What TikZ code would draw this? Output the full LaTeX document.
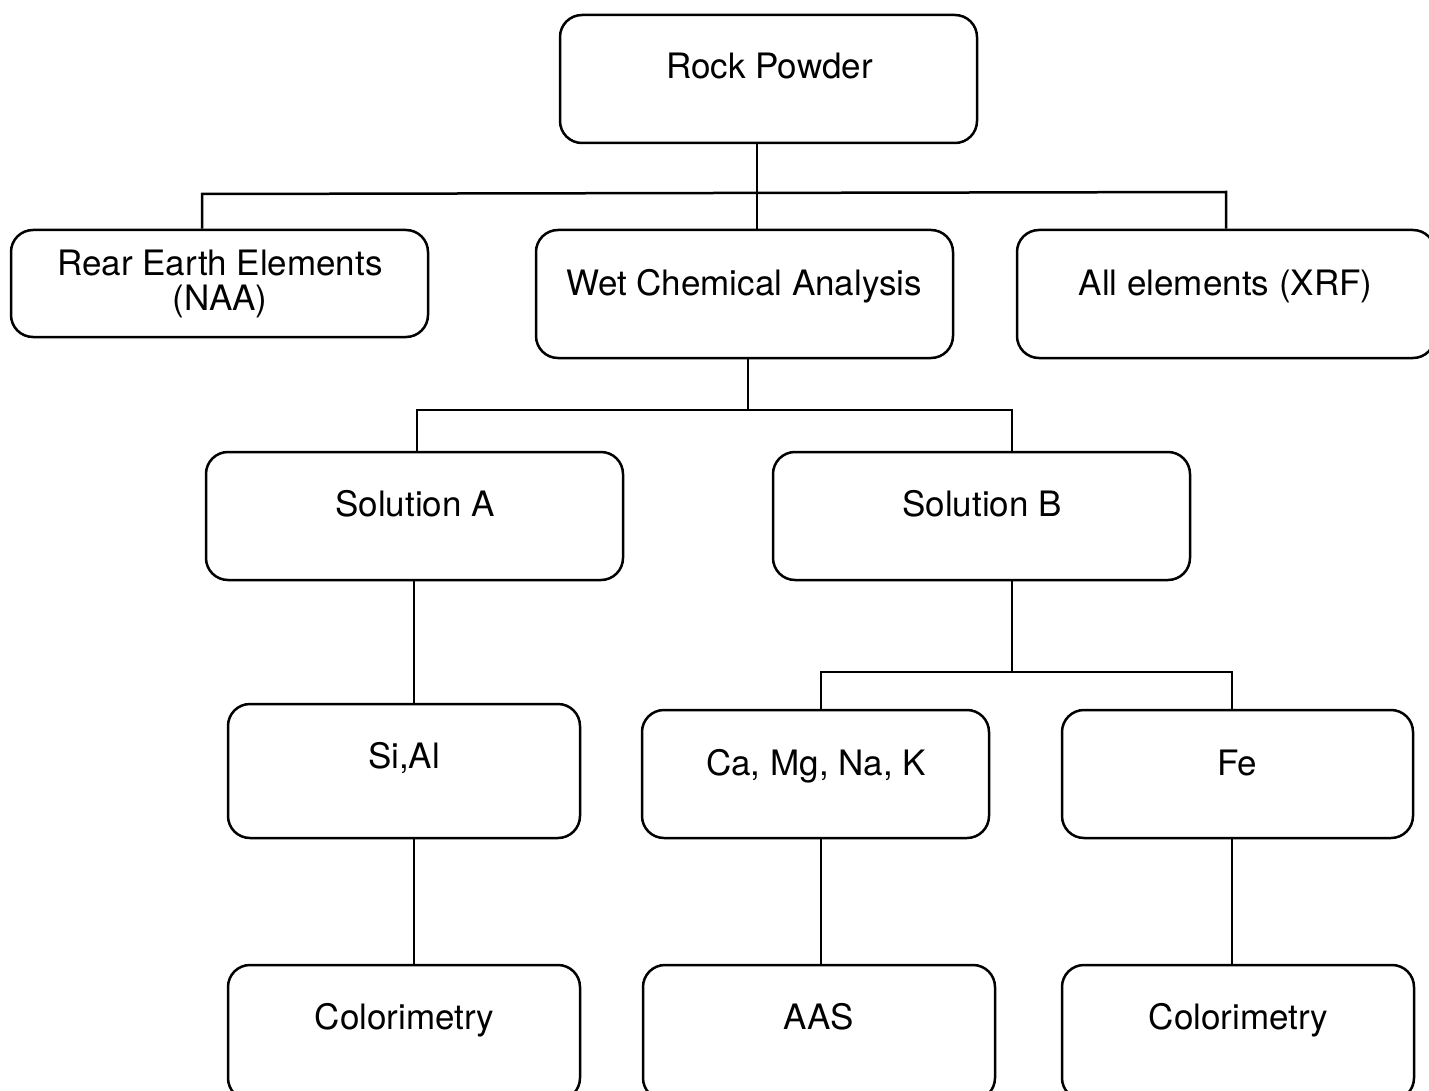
\documentclass[tikz,border=0pt]{standalone}
\usepackage{fontspec}
\setmainfont{TeX Gyre Heros}
\begin{document}
\begin{tikzpicture}[x=1pt,y=-1pt,
  box/.style={draw, line width=2.5pt, rounded corners=22pt, inner sep=0pt},
  txt/.style={anchor=base, inner sep=0pt, font=\fontsize{35}{35}\selectfont},
  conn/.style={line width=2.5pt}]
\useasboundingbox (0,0) rectangle (1429,1091);
\clip (0,0) rectangle (1429,1091);
% boxes
\node[box, minimum width=417pt, minimum height=128pt] (rp) at (768.5,79) {};
\node[box, minimum width=417pt, minimum height=107pt] (ree) at (219.5,283.5) {};
\node[box, minimum width=417pt, minimum height=128pt] (wca) at (744.5,294) {};
\node[box, minimum width=418pt, minimum height=128pt] (xrf) at (1226,294) {};
\node[box, minimum width=417pt, minimum height=128pt] (sa) at (414.5,516) {};
\node[box, minimum width=417pt, minimum height=128pt] (sb) at (981.5,516) {};
\node[box, minimum width=352pt, minimum height=134pt] (si) at (404,771) {};
\node[box, minimum width=347pt, minimum height=128pt] (ca) at (815.5,774) {};
\node[box, minimum width=351pt, minimum height=128pt] (fe) at (1237.5,774) {};
\node[box, minimum width=352pt, minimum height=135pt] (col1) at (404,1032.5) {};
\node[box, minimum width=352pt, minimum height=135pt] (aas) at (819,1032.5) {};
\node[box, minimum width=352pt, minimum height=135pt] (col2) at (1238,1032.5) {};
% texts
\node[txt] (rpt) at (769.5,79) {Rock Powder};
\node[txt] (reet1) at (220,276) {Rear Earth Elements};
\node[txt] (reet2) at (220,310) {(NAA)};
\node[txt] (wcat) at (744,295) {Wet Chemical Analysis};
\node[txt] (xrft) at (1225.5,295) {All elements (XRF)};
\node[txt] (sat) at (415,516) {Solution A};
\node[txt] (sbt) at (982,516) {Solution B};
\node[txt] (sit) at (404,768) {Si,Al};
\node[txt] (cat) at (816,775) {Ca, Mg, Na, K};
\node[txt] (fet) at (1237,775) {Fe};
\node[txt] (col1t) at (404.5,1029) {Colorimetry};
\node[txt] (aast) at (819,1029) {AAS};
\node[txt] (col2t) at (1238.5,1029) {Colorimetry};
% junction coordinates
\coordinate (t1) at (757,193);
\coordinate (b1L) at (202,194);
\coordinate (b1R) at (1226,192);
\coordinate (t2) at (748,410);
\coordinate (b2L) at (417,410);
\coordinate (b2R) at (1012,410);
\coordinate (c3) at (414,0);
\coordinate (t4) at (1012,672);
\coordinate (b4L) at (821,672);
\coordinate (b4R) at (1232,672);
% connectors
\draw[conn] (rp.south -| t1) -- (t1 |- wca.north);
\draw[conn] (b1L |- ree.north) -- (b1L) -- (b1R) -- (b1R |- xrf.north);
\draw[conn] (wca.south -| t2) -- (t2);
\draw[conn] (b2L |- sa.north) -- (b2L) -- (b2R) -- (b2R |- sb.north);
\draw[conn] (c3 |- sa.south) -- (c3 |- si.north);
\draw[conn] (c3 |- si.south) -- (c3 |- col1.north);
\draw[conn] (sb.south -| t4) -- (t4);
\draw[conn] (b4L |- ca.north) -- (b4L) -- (b4R) -- (b4R |- fe.north);
\draw[conn] (b4L |- ca.south) -- (b4L |- aas.north);
\draw[conn] (b4R |- fe.south) -- (b4R |- col2.north);
\end{tikzpicture}
\end{document}
